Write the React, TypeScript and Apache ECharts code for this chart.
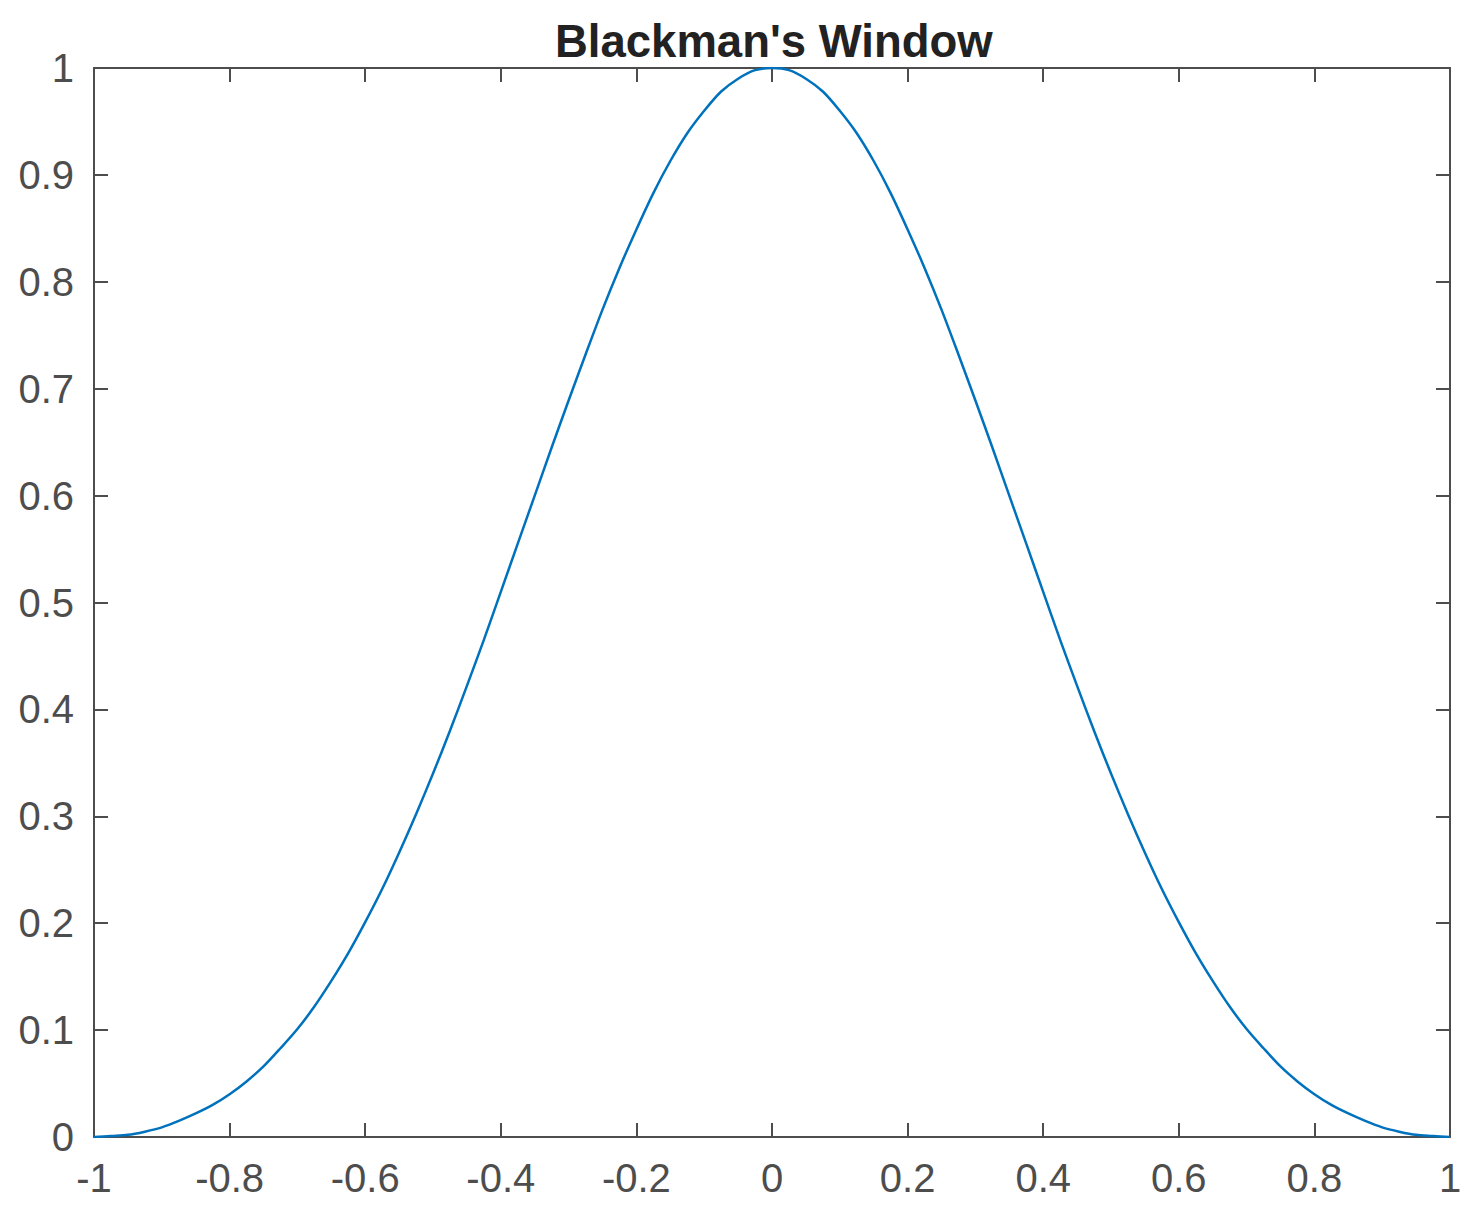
import React, { useEffect, useRef } from "react";
import * as echarts from "echarts";

const xValues = [
  -1, -0.975, -0.95, -0.925, -0.9, -0.875, -0.85, -0.825, -0.8, -0.775, -0.75, -0.725, -0.7, -0.675, -0.65,
  -0.625, -0.6, -0.575, -0.55, -0.525, -0.5, -0.475, -0.45, -0.425, -0.4, -0.375, -0.35, -0.325, -0.3, -0.275,
  -0.25, -0.225, -0.2, -0.175, -0.15, -0.125, -0.1, -0.075, -0.05, -0.025, 0, 0.025, 0.05, 0.075, 0.1, 0.125,
  0.15, 0.175, 0.2, 0.225, 0.25, 0.275, 0.3, 0.325, 0.35, 0.375, 0.4, 0.425, 0.45, 0.475, 0.5, 0.525, 0.55,
  0.575, 0.6, 0.625, 0.65, 0.675, 0.7, 0.725, 0.75, 0.775, 0.8, 0.825, 0.85, 0.875, 0.9, 0.925, 0.95, 0.975, 1,
];
const windowValues = [
  0, 0.001, 0.002, 0.005, 0.009, 0.015, 0.022, 0.03, 0.04, 0.052, 0.066, 0.083, 0.101, 0.122, 0.146, 0.172,
  0.201, 0.232, 0.266, 0.302, 0.34, 0.38, 0.422, 0.465, 0.51, 0.555, 0.6, 0.645, 0.689, 0.732, 0.774, 0.813,
  0.849, 0.883, 0.913, 0.939, 0.96, 0.978, 0.99, 0.998, 1, 0.998, 0.99, 0.978, 0.96, 0.939, 0.913, 0.883,
  0.849, 0.813, 0.774, 0.732, 0.689, 0.645, 0.6, 0.555, 0.51, 0.465, 0.422, 0.38, 0.34, 0.302, 0.266, 0.232,
  0.201, 0.172, 0.146, 0.122, 0.101, 0.083, 0.066, 0.052, 0.04, 0.03, 0.022, 0.015, 0.009, 0.005, 0.002,
  0.001, 0,
];
const titleText = "Blackman's Window";

const FONT = "'Liberation Sans', Arial, Helvetica, sans-serif";
const AXIS_COLOR = "#4d4d4d";

export default function App() {
  const ref = useRef<HTMLDivElement>(null);
  useEffect(() => {
    if (!ref.current) return;
    const chart = echarts.init(ref.current, undefined, { renderer: "svg" });
    const axisLine = { show: true, onZero: false, lineStyle: { color: AXIS_COLOR, width: 2 } };
    const axisTick = { show: true, inside: true, length: 14, lineStyle: { color: AXIS_COLOR, width: 2 } };
    const fmt = (v: number) => (Math.abs(v) < 1e-9 ? "0" : String(Math.round(v * 10) / 10));
    chart.setOption({
      animation: false,
      backgroundColor: "#ffffff",
      title: {
        text: titleText,
        left: 550,
        top: 13,
        textStyle: { fontFamily: FONT, fontSize: 45.5, fontWeight: "bold", color: "#222222" },
      },
      grid: { left: 94, right: 26, top: 68, bottom: 81, containLabel: false },
      xAxis: [
        {
          type: "value",
          min: -1,
          max: 1,
          interval: 0.2,
          position: "bottom",
          axisLine,
          axisTick,
          splitLine: { show: false },
          axisLabel: {
            show: true,
            margin: 21,
            color: AXIS_COLOR,
            fontFamily: FONT,
            fontSize: 40,
            formatter: fmt,
          },
        },
        {
          type: "value",
          min: -1,
          max: 1,
          interval: 0.2,
          position: "top",
          axisLine,
          axisTick,
          splitLine: { show: false },
          axisLabel: { show: false },
        },
      ],
      yAxis: [
        {
          type: "value",
          min: 0,
          max: 1,
          interval: 0.1,
          position: "left",
          axisLine,
          axisTick,
          splitLine: { show: false },
          axisLabel: {
            show: true,
            margin: 20,
            color: AXIS_COLOR,
            fontFamily: FONT,
            fontSize: 40,
            formatter: fmt,
          },
        },
        {
          type: "value",
          min: 0,
          max: 1,
          interval: 0.1,
          position: "right",
          axisLine,
          axisTick,
          splitLine: { show: false },
          axisLabel: { show: false },
        },
      ],
      series: [
        {
          type: "line",
          xAxisIndex: 0,
          yAxisIndex: 0,
          data: xValues.map((x, i) => [x, windowValues[i]]),
          smooth: 0.3,
          showSymbol: false,
          symbol: "none",
          lineStyle: { color: "#0072BD", width: 2.5 },
          z: 1,
        },
      ],
    });
    return () => chart.dispose();
  }, []);
  return (
    <div
      ref={ref}
      style={{ position: "fixed", left: 0, top: 0, width: 1476, height: 1218, background: "#fff" }}
    />
  );
}
